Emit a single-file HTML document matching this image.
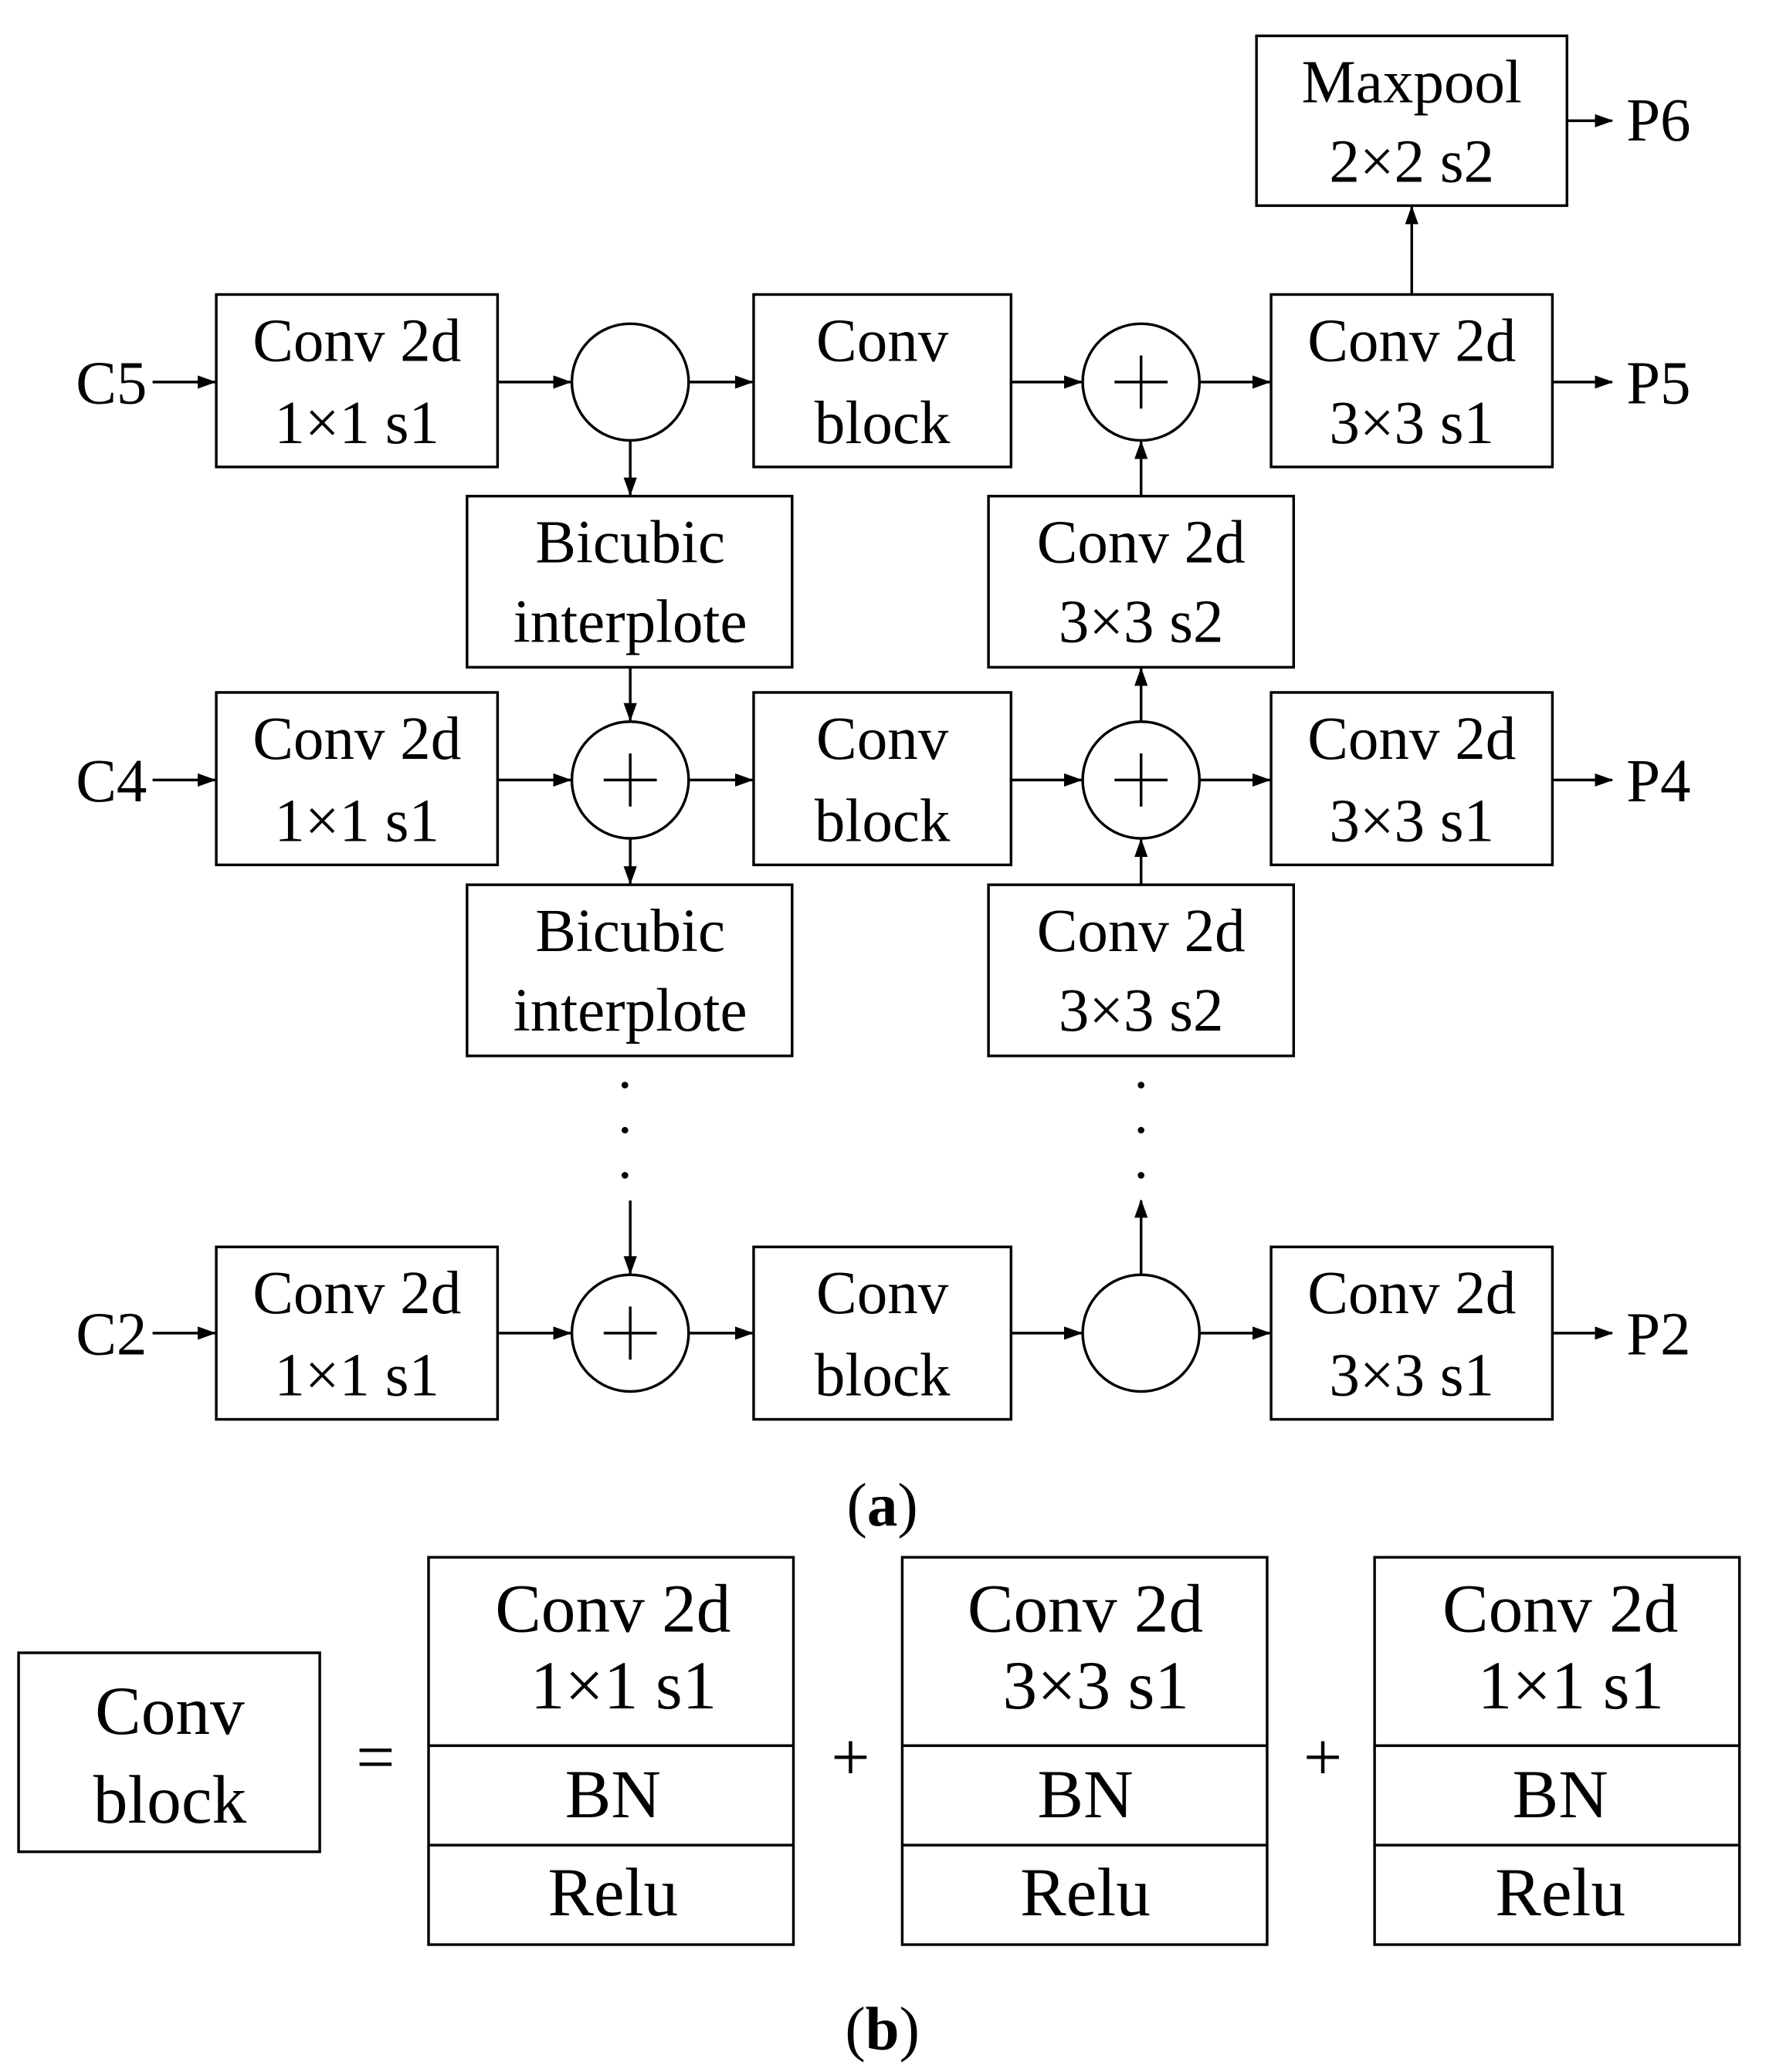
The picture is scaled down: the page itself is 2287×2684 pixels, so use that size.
<!DOCTYPE html>
<html><head><meta charset="utf-8"><style>
html,body{margin:0;padding:0;background:#fff}
svg{display:block}
text{font-family:"Liberation Serif",serif;fill:#000}
</style></head><body>
<svg width="2287" height="2684" viewBox="0 0 1331 1562" xmlns="http://www.w3.org/2000/svg">
<defs><marker id="a" markerWidth="14" markerHeight="10" refX="13" refY="5" orient="auto" markerUnits="userSpaceOnUse"><path d="M0,0 L14,5 L0,10 z" fill="#000"/></marker></defs>
<g fill="none" stroke="#000" stroke-width="2">
<rect x="947" y="27" width="234" height="128"/>
<rect x="163" y="222" width="212" height="130"/>
<circle cx="475" cy="288" r="44"/>
<rect x="568" y="222" width="194" height="130"/>
<circle cx="860" cy="288" r="44"/>
<rect x="958" y="222" width="212" height="130"/>
<rect x="352" y="374" width="245" height="129"/>
<rect x="745" y="374" width="230" height="129"/>
<rect x="163" y="522" width="212" height="130"/>
<circle cx="475" cy="588" r="44"/>
<rect x="568" y="522" width="194" height="130"/>
<circle cx="860" cy="588" r="44"/>
<rect x="958" y="522" width="212" height="130"/>
<rect x="352" y="667" width="245" height="129"/>
<rect x="745" y="667" width="230" height="129"/>
<rect x="163" y="940" width="212" height="130"/>
<circle cx="475" cy="1005" r="44"/>
<rect x="568" y="940" width="194" height="130"/>
<circle cx="860" cy="1005" r="44"/>
<rect x="958" y="940" width="212" height="130"/>
<path d="M840,288 H880 M860,268 V308 M455,588 H495 M475,568 V608 M840,588 H880 M860,568 V608 M455,1005 H495 M475,985 V1025"/>
<rect x="14" y="1246" width="227" height="150"/>
<rect x="323" y="1174" width="275" height="292"/><path d="M323,1316 H598 M323,1391 H598"/>
<rect x="680" y="1174" width="275" height="292"/><path d="M680,1316 H955 M680,1391 H955"/>
<rect x="1036" y="1174" width="275" height="292"/><path d="M1036,1316 H1311 M1036,1391 H1311"/>
</g>
<g stroke="#000" stroke-width="2" marker-end="url(#a)">
<line x1="115" y1="288" x2="162" y2="288"/>
<line x1="375" y1="288" x2="430" y2="288"/>
<line x1="519" y1="288" x2="567" y2="288"/>
<line x1="762" y1="288" x2="815" y2="288"/>
<line x1="904" y1="288" x2="957" y2="288"/>
<line x1="1170" y1="288" x2="1215" y2="288"/>
<line x1="1064" y1="222" x2="1064" y2="156"/>
<line x1="1181" y1="91" x2="1215" y2="91"/>
<line x1="475" y1="332" x2="475" y2="373"/>
<line x1="860" y1="374" x2="860" y2="333"/>
<line x1="475" y1="503" x2="475" y2="543"/>
<line x1="860" y1="544" x2="860" y2="504"/>
<line x1="115" y1="588" x2="162" y2="588"/>
<line x1="375" y1="588" x2="430" y2="588"/>
<line x1="519" y1="588" x2="567" y2="588"/>
<line x1="762" y1="588" x2="815" y2="588"/>
<line x1="904" y1="588" x2="957" y2="588"/>
<line x1="1170" y1="588" x2="1215" y2="588"/>
<line x1="475" y1="632" x2="475" y2="666"/>
<line x1="860" y1="667" x2="860" y2="633"/>
<line x1="475" y1="905" x2="475" y2="960"/>
<line x1="860" y1="961" x2="860" y2="905"/>
<line x1="115" y1="1005" x2="162" y2="1005"/>
<line x1="375" y1="1005" x2="430" y2="1005"/>
<line x1="519" y1="1005" x2="567" y2="1005"/>
<line x1="762" y1="1005" x2="815" y2="1005"/>
<line x1="904" y1="1005" x2="957" y2="1005"/>
<line x1="1170" y1="1005" x2="1215" y2="1005"/>
</g>
<g fill="#000">
<circle cx="471" cy="818" r="2.5"/><circle cx="471" cy="852" r="2.5"/><circle cx="471" cy="886" r="2.5"/>
<circle cx="860" cy="818" r="2.5"/><circle cx="860" cy="852" r="2.5"/><circle cx="860" cy="886" r="2.5"/>
</g>
<g font-size="46" text-anchor="middle">
<text x="1064" y="77">Maxpool</text><text x="1064" y="137">2×2 s2</text>
<text x="269" y="272">Conv 2d</text><text x="269" y="334">1×1 s1</text>
<text x="665" y="272">Conv</text><text x="665" y="334">block</text>
<text x="1064" y="272">Conv 2d</text><text x="1064" y="334">3×3 s1</text>
<text x="475" y="424">Bicubic</text><text x="475" y="484">interplote</text>
<text x="860" y="424">Conv 2d</text><text x="860" y="484">3×3 s2</text>
<text x="269" y="572">Conv 2d</text><text x="269" y="634">1×1 s1</text>
<text x="665" y="572">Conv</text><text x="665" y="634">block</text>
<text x="1064" y="572">Conv 2d</text><text x="1064" y="634">3×3 s1</text>
<text x="475" y="717">Bicubic</text><text x="475" y="777">interplote</text>
<text x="860" y="717">Conv 2d</text><text x="860" y="777">3×3 s2</text>
<text x="269" y="990">Conv 2d</text><text x="269" y="1052">1×1 s1</text>
<text x="665" y="990">Conv</text><text x="665" y="1052">block</text>
<text x="1064" y="990">Conv 2d</text><text x="1064" y="1052">3×3 s1</text>
<text x="84" y="304">C5</text><text x="84" y="604">C4</text><text x="84" y="1021">C2</text>
<text x="1250" y="106">P6</text><text x="1250" y="304">P5</text><text x="1250" y="604">P4</text><text x="1250" y="1021">P2</text>
<text x="665" y="1150">(<tspan font-weight="bold">a</tspan>)</text>
<text x="665" y="1545">(<tspan font-weight="bold">b</tspan>)</text>
</g>
<g font-size="52" text-anchor="middle">
<text x="128" y="1307">Conv</text><text x="128" y="1374">block</text>
<text x="283" y="1342">=</text><text x="641" y="1342">+</text><text x="997" y="1342">+</text>
<text x="462" y="1230">Conv 2d</text><text x="470" y="1288">1×1 s1</text>
<text x="462" y="1370">BN</text><text x="462" y="1444">Relu</text>
<text x="818" y="1230">Conv 2d</text><text x="826" y="1288">3×3 s1</text>
<text x="818" y="1370">BN</text><text x="818" y="1444">Relu</text>
<text x="1176" y="1230">Conv 2d</text><text x="1184" y="1288">1×1 s1</text>
<text x="1176" y="1370">BN</text><text x="1176" y="1444">Relu</text>
</g>
</svg>
</body></html>
